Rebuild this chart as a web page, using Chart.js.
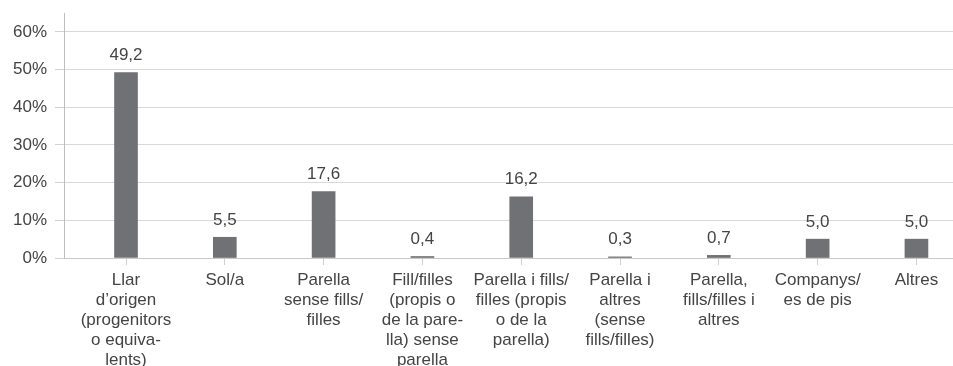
<!DOCTYPE html>
<html>
<head>
<meta charset="utf-8">
<script src="https://cdn.jsdelivr.net/npm/chart.js@4"></script>
<style>
  html, body { margin: 0; padding: 0; background: #ffffff; }
  #wrap { width: 953px; height: 366px; }
</style>
</head>
<body>
<div id="wrap"><canvas id="c" width="953" height="366"></canvas></div>
<script>
// Category labels (each as its wrapped lines)
const categories = [
  ["Llar", "d’origen", "(progenitors", "o equiva-", "lents)"],
  ["Sol/a"],
  ["Parella", "sense fills/", "filles"],
  ["Fill/filles", "(propis o", "de la pare-", "lla) sense", "parella"],
  ["Parella i fills/", "filles (propis", "o de la", "parella)"],
  ["Parella i", "altres", "(sense", "fills/filles)"],
  ["Parella,", "fills/filles i", "altres"],
  ["Companys/", "es de pis"],
  ["Altres"]
];
// Percent values
const values = [49.2, 5.5, 17.6, 0.4, 16.2, 0.3, 0.7, 5.0, 5.0];
// Y tick values
const yTicks = [0, 10, 20, 30, 40, 50, 60];

const FONT = "'Liberation Sans', Arial, Helvetica, sans-serif";
const TEXT = '#444444';

const points = values.map((v, i) => ({ x: i, y: v }));

const valueLabels = {
  id: 'valueLabels',
  afterDatasetsDraw(chart) {
    const ctx = chart.ctx;
    const meta = chart.getDatasetMeta(0);
    ctx.save();
    ctx.font = '17px ' + FONT;
    ctx.fillStyle = TEXT;
    ctx.textAlign = 'center';
    ctx.textBaseline = 'alphabetic';
    meta.data.forEach((bar, i) => {
      const txt = values[i].toFixed(1).replace('.', ',');
      ctx.fillText(txt, bar.x, bar.y - 12.5);
    });
    ctx.restore();
  }
};

new Chart(document.getElementById('c'), {
  type: 'bar',
  data: {
    datasets: [{
      data: points,
      backgroundColor: '#707174',
      borderWidth: 0,
      barThickness: 23
    }]
  },
  options: {
    responsive: false,
    animation: false,
    devicePixelRatio: 1,
    layout: { padding: { top: 13, right: 0, left: 0, bottom: 0 } },
    plugins: {
      legend: { display: false },
      tooltip: { enabled: false }
    },
    scales: {
      x: {
        type: 'linear',
        offset: false,
        min: -0.6275,
        max: 8.37,
        afterBuildTicks(scale) {
          scale.ticks = categories.map((c, i) => ({ value: i }));
        },
        afterFit(scale) {
          scale.height = 108;
          scale.paddingLeft = 0;
          scale.paddingRight = 0;
        },
        grid: {
          offset: false,
          drawOnChartArea: false,
          drawTicks: true,
          tickLength: 7,
          tickColor: '#cfcfcf'
        },
        border: { display: true, color: '#c8c8c8', width: 1 },
        ticks: {
          autoSkip: false,
          maxRotation: 0,
          minRotation: 0,
          padding: 5,
          color: TEXT,
          font: { family: FONT, size: 17, lineHeight: '20px' },
          callback: (v) => categories[v]
        }
      },
      y: {
        min: 0,
        max: 65,
        afterBuildTicks(scale) {
          scale.ticks = yTicks.map(v => ({ value: v }));
        },
        afterFit(scale) {
          scale.width = 64;
          scale.paddingTop = 0;
          scale.paddingBottom = 0;
        },
        grid: {
          color: '#d9d9d9',
          tickColor: '#d0d0d0',
          drawTicks: true,
          tickLength: 9
        },
        border: { display: true, color: '#bfbfbf', width: 1 },
        ticks: {
          padding: 8,
          color: TEXT,
          font: { family: FONT, size: 17 },
          callback: (v) => v + '%'
        }
      }
    }
  },
  plugins: [valueLabels]
});
</script>
</body>
</html>
